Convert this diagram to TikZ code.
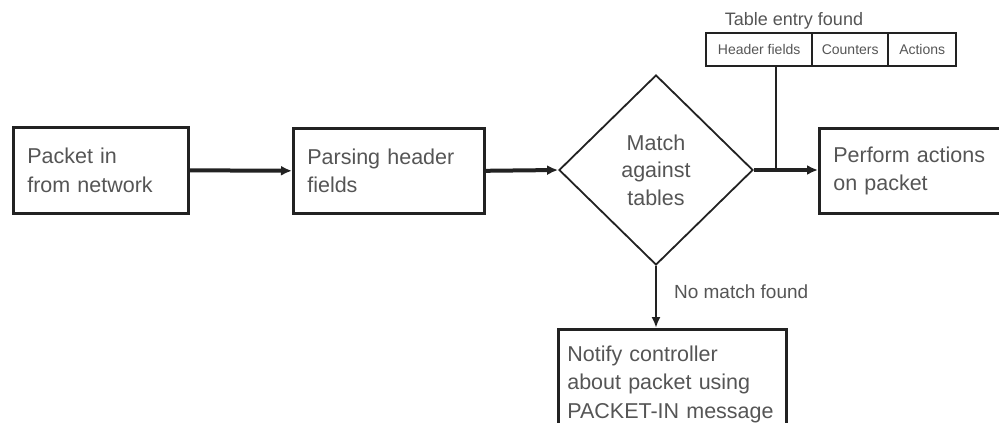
\documentclass[tikz,border=0pt]{standalone}
\usepackage{fontspec}
\setmainfont{Liberation Sans}
\usetikzlibrary{shapes.geometric,arrows.meta}
\hyphenpenalty=10000
\exhyphenpenalty=10000
\definecolor{txt}{HTML}{555555}
\definecolor{ink}{HTML}{222222}
\tikzset{
  stepbox/.style={draw=ink, line width=2.6pt, rectangle, anchor=north west,
    inner xsep=14pt, inner ysep=0pt, align=left, text=txt,
    font=\fontsize{21.5}{28.5}\selectfont},
  decision/.style={draw=ink, line width=1.8pt, diamond, inner sep=0pt,
    minimum width=194pt, minimum height=190pt, align=center, text=txt,
    font=\fontsize{21.5}{27.5}\selectfont},
  cell/.style={draw=ink, line width=2.4pt, rectangle, anchor=north west,
    inner sep=0pt, minimum height=33pt, text=txt,
    font=\fontsize{14}{16}\selectfont},
  flow/.style={draw=ink, line width=4pt, -{Latex[length=11pt,width=10pt]}},
  thin/.style={draw=ink, line width=2.2pt},
  thinflow/.style={draw=ink, line width=2.2pt, -{Latex[length=11pt,width=9pt]}},
  lbl/.style={text=txt, inner sep=0pt}
}
\begin{document}
\begin{tikzpicture}[x=1pt, y=-1pt]
  \useasboundingbox (0,0) rectangle (999,423);
  \clip (0,0) rectangle (999,423);

  % processing steps
  \node[stepbox, minimum width=175pt, minimum height=86pt, text width=147pt]
    (pin) at (12,126) {Packet in\\from network};
  \node[stepbox, minimum width=191pt, minimum height=85pt, text width=163pt]
    (parse) at (292,127) {Parsing header\\fields};
  \node[decision] (match) at (656,170) {Match\\against\\tables};
  \node[stepbox, minimum width=200pt, minimum height=85pt, text width=172pt]
    (act) at (818,127) {Perform actions\\on packet};
  \node[stepbox, inner xsep=9pt, minimum width=228pt, minimum height=110pt,
    text width=210pt]
    (notify) at (557,328) {Notify controller\\about packet using\\PACKET-IN message};

  % flow table entry
  \node[cell, minimum width=106pt] (hdr) at (705,32) {Header fields};
  \node[cell, minimum width=76pt] (cnt) at (811,32) {Counters};
  \node[cell, minimum width=68pt] (acts) at (887,32) {Actions};
  \node[lbl, font=\fontsize{18}{20}\selectfont, anchor=base] (found) at (794,25)
    {Table entry found};

  % connectors
  \draw[flow] (pin.east) -- (parse.west);
  \draw[flow] (parse.east) -- (match.west);
  \draw[flow] (match.east) -- (act.west |- match.east);
  \coordinate (tap) at (776,170);
  \draw[thin] (hdr.south -| tap) -- (tap);
  \draw[thinflow] (match.south) -- (notify.north -| match.south)
    node[lbl, pos=0.42, anchor=west, xshift=17pt,
      font=\fontsize{19}{21}\selectfont] {No match found};
\end{tikzpicture}
\end{document}
